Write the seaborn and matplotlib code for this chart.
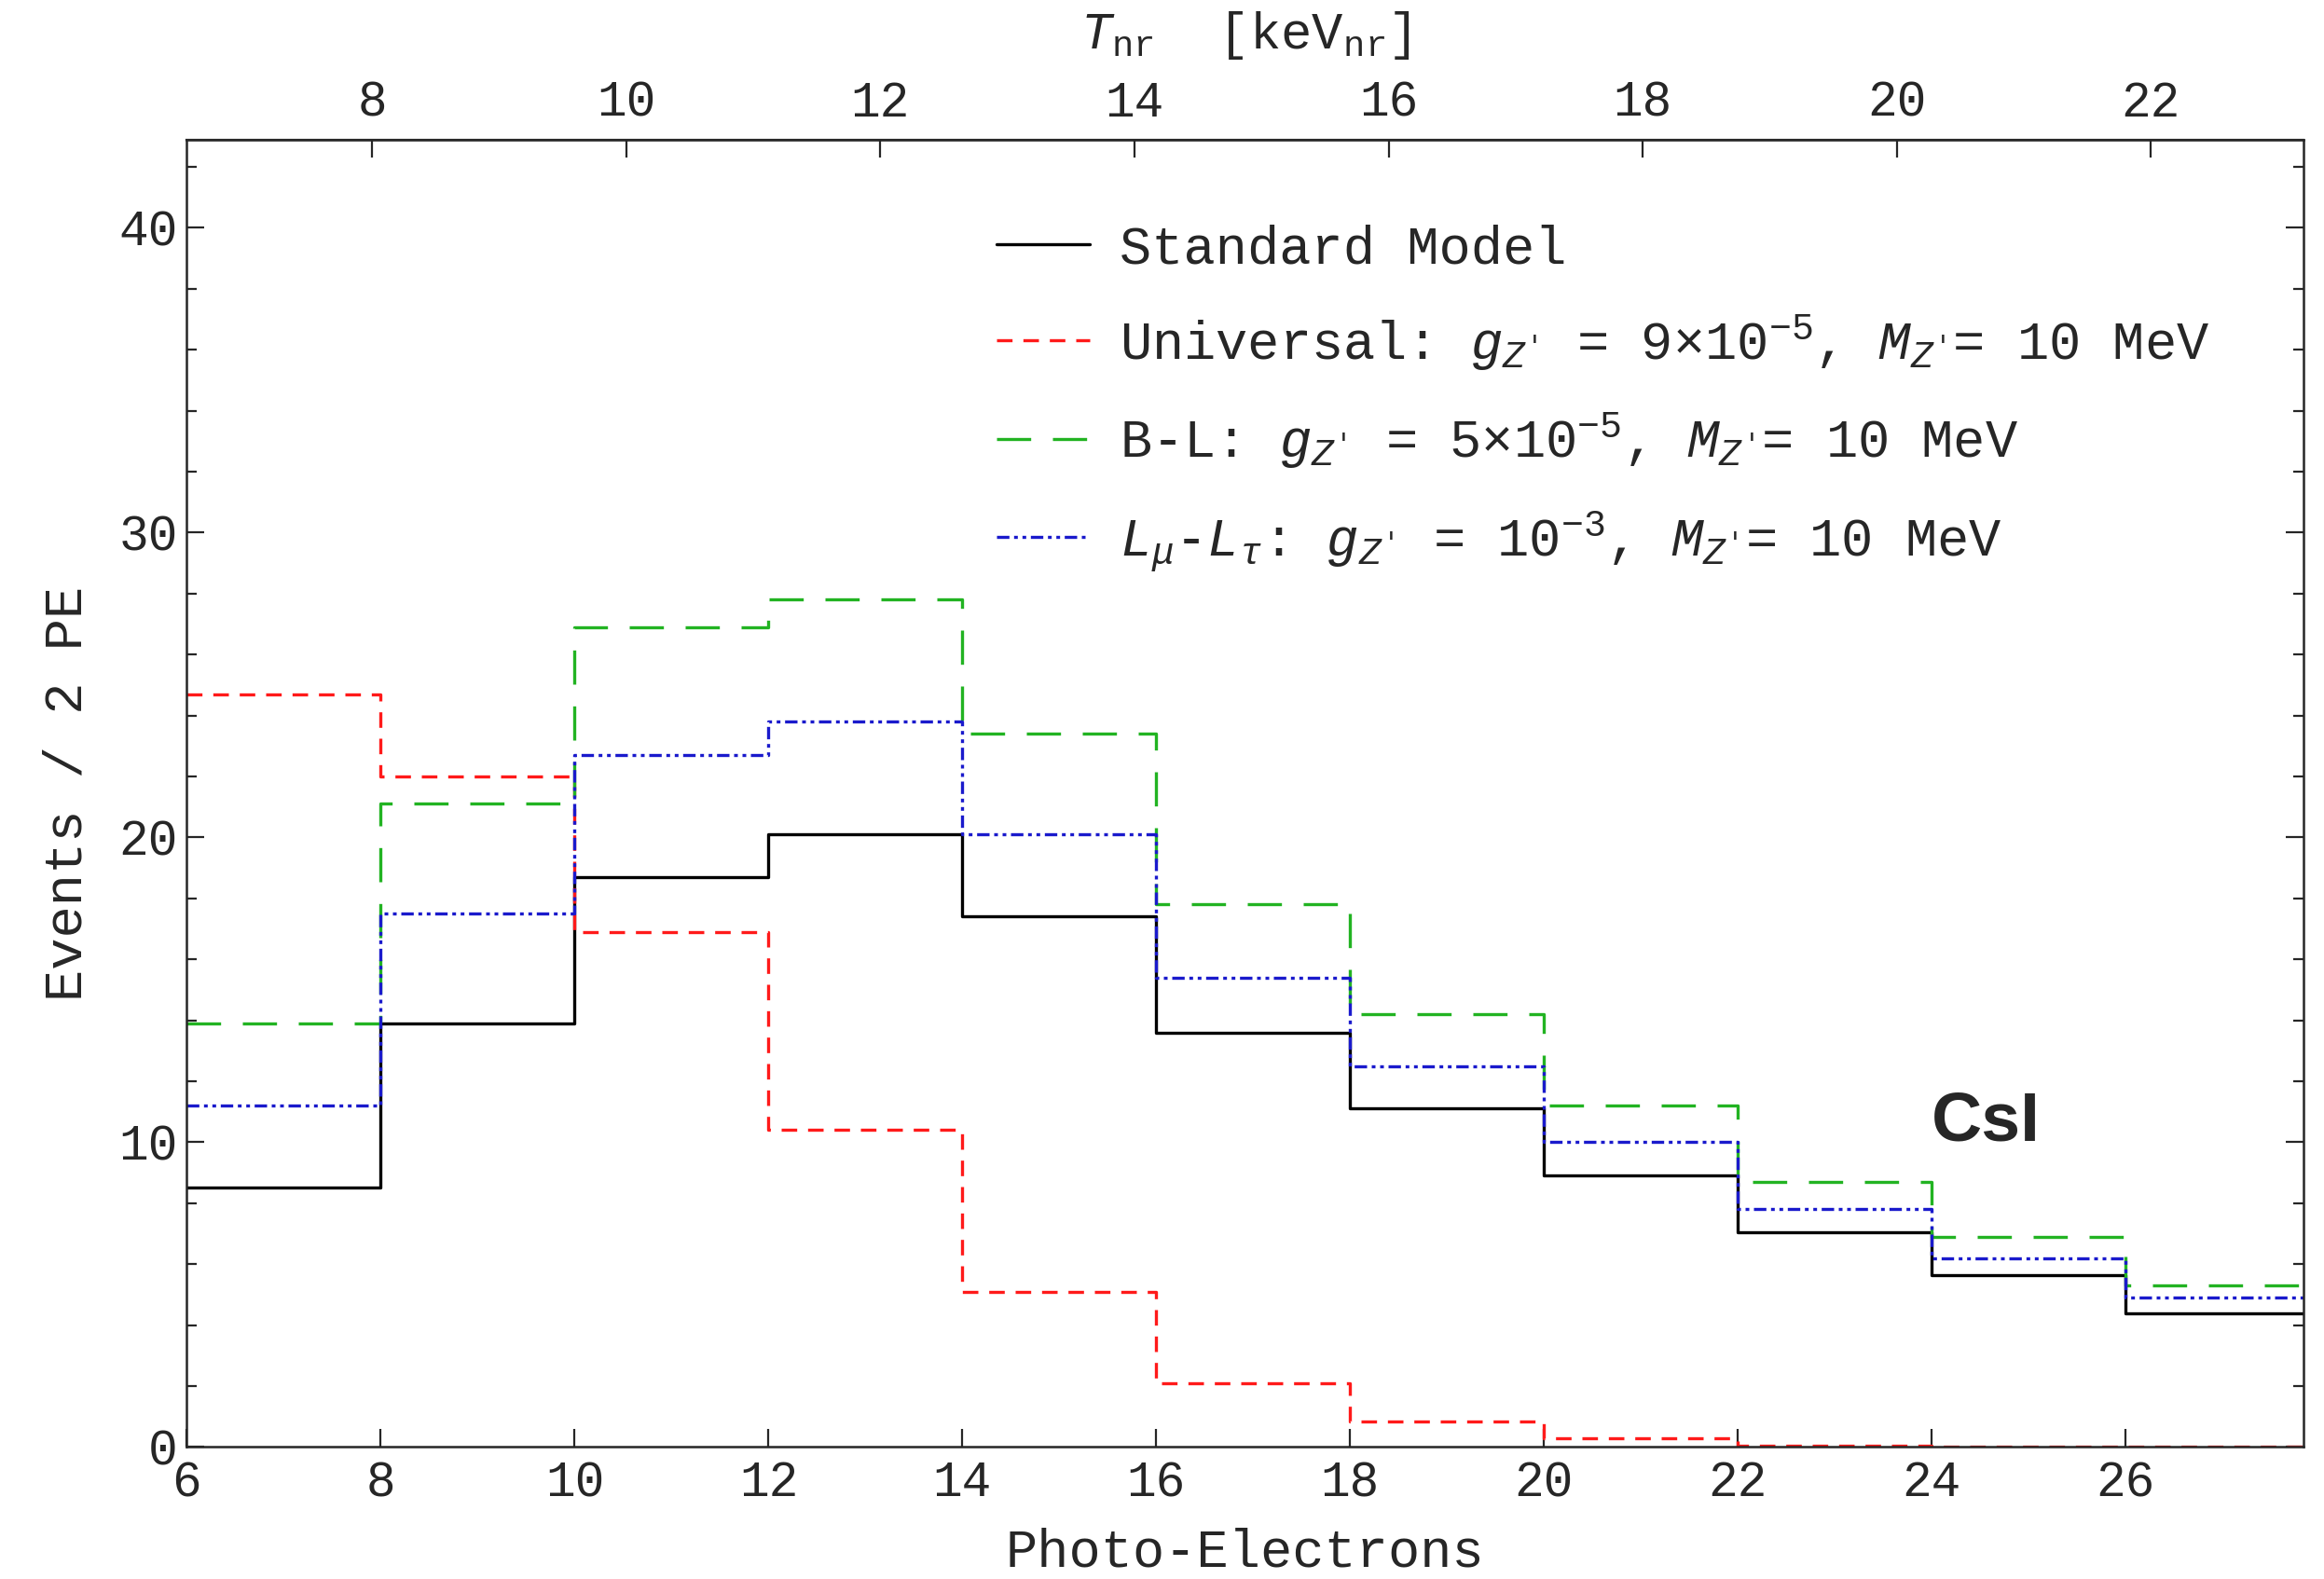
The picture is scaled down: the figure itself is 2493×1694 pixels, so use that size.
import numpy as np
import pandas as pd
import matplotlib
matplotlib.use("Agg")
import matplotlib.pyplot as plt
import seaborn as sns
from matplotlib.ticker import MultipleLocator

sns.set_style("ticks")
plt.rcParams["font.family"] = ["Liberation Mono", "DejaVu Sans Mono"]
plt.rcParams["mathtext.fontset"] = "custom"
plt.rcParams["mathtext.rm"] = "Liberation Mono"
plt.rcParams["mathtext.it"] = "Liberation Mono:italic"

# --- adatok ---
edges = [6, 8, 10, 12, 14, 16, 18, 20, 22, 24, 26, 28]
sm = [8.5, 13.9, 18.7, 20.1, 17.4, 13.6, 11.1, 8.9, 7.06, 5.64, 4.38]
universal = [24.7, 22.0, 16.9, 10.4, 5.1, 2.1, 0.83, 0.3, 0.05, 0.02, 0.01]
b_minus_l = [13.9, 21.1, 26.9, 27.8, 23.4, 17.8, 14.2, 11.2, 8.7, 6.9, 5.3]
lmu_ltau = [11.2, 17.5, 22.7, 23.8, 20.1, 15.4, 12.5, 10.0, 7.8, 6.2, 4.9]

labels = [
    "Standard Model",
    r"Universal: $g_{Z'}$ = 9$\times$10$^{-5}$, $M_{Z'}$= 10 MeV",
    r"B-L: $g_{Z'}$ = 5$\times$10$^{-5}$, $M_{Z'}$= 10 MeV",
    r"$L_\mu$-$L_\tau$: $g_{Z'}$ = 10$^{-3}$, $M_{Z'}$= 10 MeV",
]
colors = ["black", "#ff1a1a", "#22b322", "#1a1acc"]
dash_styles = ["", (5, 3.5), (11, 7), (4, 1.5, 1.2, 1.5, 1.2, 1.5)]

# PE <-> T_nr (keV_nr) kalibráció a felső tengelyhez
slope, intercept = 1.3107, -2.575

# step adatok: utolsó érték megismétlése a bin végén
rows = []
for lab, vals in zip(labels, [sm, universal, b_minus_l, lmu_ltau]):
    ys = list(vals) + [vals[-1]]
    for x, y in zip(edges, ys):
        rows.append({"pe": x, "events": y, "model": lab})
df = pd.DataFrame(rows)

fig = plt.figure(figsize=(12.465, 8.47), dpi=200)
ax = fig.add_axes([0.0804, 0.0836, 0.9106, 0.8281])

sns.lineplot(data=df, x="pe", y="events", hue="model", style="model",
             hue_order=labels, style_order=labels,
             palette=dict(zip(labels, colors)), dashes=dict(zip(labels, dash_styles)),
             drawstyle="steps-post", linewidth=1.2, ax=ax, legend=True)

ax.set_xlim(6, 27.83)
ax.set_ylim(0, 42.9)
ax.set_xticks([6, 8, 10, 12, 14, 16, 18, 20, 22, 24, 26])
ax.set_yticks([0, 10, 20, 30, 40])
ax.yaxis.set_minor_locator(MultipleLocator(2))
ax.tick_params(which="both", direction="in", top=False, right=True, labelsize=19)
ax.tick_params(which="major", length=7, width=0.8)
ax.tick_params(which="minor", length=4, width=0.8)
ax.tick_params(axis="x", pad=5)
for s in ax.spines.values():
    s.set_linewidth(0.9)

ax.set_xlabel("Photo-Electrons", fontsize=20.5, labelpad=8)
ax.set_ylabel("Events / 2 PE", fontsize=20.5, labelpad=10)

top = ax.secondary_xaxis("top", functions=(lambda p: (p - intercept) / slope,
                                           lambda t: slope * t + intercept))
top.set_xticks([8, 10, 12, 14, 16, 18, 20, 22])
top.tick_params(direction="in", length=7, width=0.8, labelsize=19, pad=5)
top.set_xlabel(r"$T_{\rm nr}$  [keV$_{\rm nr}$]", fontsize=20, labelpad=12)

handles, labs = ax.get_legend_handles_labels()
ax.legend(handles, labs, loc="upper left", bbox_to_anchor=(0.360, 0.972),
          frameon=False, fontsize=20.5, handlelength=1.76, handletextpad=0.56,
          labelspacing=0.72)

ax.text(24.56, 10.66, "CsI", fontsize=27, fontweight="bold",
        family="Liberation Sans", ha="center", va="center")

fig.savefig("out.png", dpi=200)
